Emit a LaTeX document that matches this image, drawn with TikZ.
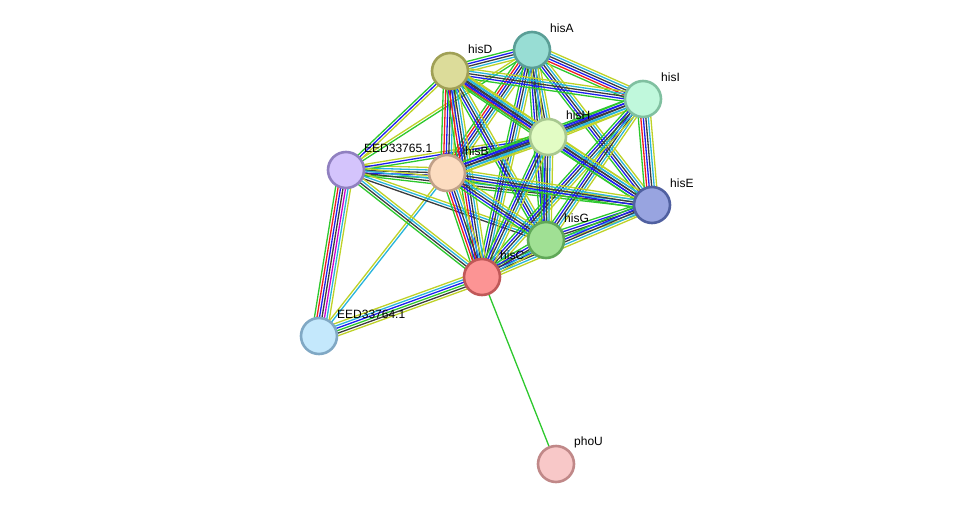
\documentclass[tikz,border=0pt]{standalone}
\usepackage{fontspec}
\setmainfont{Liberation Sans}
\usetikzlibrary{calc}
\pgfdeclarelayer{bg}
\pgfsetlayers{bg,main}
\definecolor{nb}{RGB}{45,200,45}
\definecolor{fu}{RGB}{240,30,30}
\definecolor{co}{RGB}{30,30,240}
\definecolor{ex}{RGB}{60,60,60}
\definecolor{xp}{RGB}{205,0,205}
\definecolor{db}{RGB}{40,180,220}
\definecolor{tm}{RGB}{190,210,40}
\tikzset{
  prot/.style={circle, draw, line width=2.6pt, minimum size=36pt, inner sep=0pt},
  lab/.style={anchor=west, inner sep=0pt, font=\fontsize{12}{14}\selectfont},
  edgeline/.style={line width=1.3pt}
}
\newcommand\sedge[3]{%
  \foreach \c [count=\i] in {#3} {\xdef\nlines{\i}}%
  \foreach \c [count=\i] in {#3} {%
    \pgfmathsetmacro\off{(\i-(\nlines+1)/2)*2.5}%
    \draw[\c, edgeline] ($(#1)!\off pt!90:(#2)$) -- ($(#2)!\off pt!-90:(#1)$);
  }}
\begin{document}
\begin{tikzpicture}[x=1pt,y=-1pt]
\useasboundingbox (0,0) rectangle (975,509);
% nodes
\node[prot, fill={rgb,255:red,152;green,221;blue,212}, draw={rgb,255:red,90;green,158;blue,150}] (hisA) at (532,50) {};
\node[prot, fill={rgb,255:red,220;green,220;blue,154}, draw={rgb,255:red,160;green,160;blue,85}] (hisD) at (450,71) {};
\node[prot, fill={rgb,255:red,192;green,248;blue,220}, draw={rgb,255:red,128;green,192;blue,160}] (hisI) at (643,99) {};
\node[prot, fill={rgb,255:red,226;green,252;blue,196}, draw={rgb,255:red,168;green,200;blue,144}] (hisH) at (548,137) {};
\node[prot, fill={rgb,255:red,212;green,196;blue,252}, draw={rgb,255:red,144;green,128;blue,192}] (e65) at (346,170) {};
\node[prot, fill={rgb,255:red,252;green,220;blue,192}, draw={rgb,255:red,192;green,160;blue,136}] (hisB) at (447,173) {};
\node[prot, fill={rgb,255:red,152;green,164;blue,224}, draw={rgb,255:red,80;green,96;blue,160}] (hisE) at (652,205) {};
\node[prot, fill={rgb,255:red,160;green,224;blue,148}, draw={rgb,255:red,96;green,168;blue,88}] (hisG) at (546,240) {};
\node[prot, fill={rgb,255:red,252;green,148;blue,148}, draw={rgb,255:red,192;green,88;blue,88}] (hisC) at (482,277) {};
\node[prot, fill={rgb,255:red,196;green,232;blue,252}, draw={rgb,255:red,128;green,168;blue,196}] (e64) at (319,336) {};
\node[prot, fill={rgb,255:red,248;green,200;blue,200}, draw={rgb,255:red,192;green,136;blue,136}] (phoU) at (556,464) {};
% labels
\node[lab] (lhisA) at ($(hisA)+(18,-22)$) {hisA};
\node[lab] (lhisD) at ($(hisD)+(18,-22)$) {hisD};
\node[lab] (lhisI) at ($(hisI)+(18,-22)$) {hisI};
\node[lab] (lhisH) at ($(hisH)+(18,-22)$) {hisH};
\node[lab] (le65) at ($(e65)+(18,-22)$) {EED33765.1};
\node[lab] (lhisB) at ($(hisB)+(18,-22)$) {hisB};
\node[lab] (lhisE) at ($(hisE)+(18,-22)$) {hisE};
\node[lab] (lhisG) at ($(hisG)+(18,-22)$) {hisG};
\node[lab] (lhisC) at ($(hisC)+(18,-22)$) {hisC};
\node[lab] (le64) at ($(e64)+(18,-22)$) {EED33764.1};
\node[lab] (lphoU) at ($(phoU)+(18,-22)$) {phoU};
% edges
\begin{pgfonlayer}{bg}
\sedge{hisC}{phoU}{nb}
\sedge{e65}{e64}{nb,fu,co,ex,xp,db,tm}
\sedge{e64}{hisC}{tm,ex,nb,co,db,tm}
\sedge{e64}{hisB}{db,tm}
\sedge{e65}{hisB}{nb,co,ex,db,tm}
\sedge{e65}{hisD}{tm,co,nb}
\sedge{e65}{hisA}{nb,tm}
\sedge{e65}{hisH}{nb,co,tm}
\sedge{e65}{hisE}{nb,ex,db,tm}
\sedge{e65}{hisG}{ex,db,tm}
\sedge{e65}{hisC}{nb,ex,db,tm}
\sedge{hisA}{hisD}{nb,co,ex,db,tm}
\sedge{hisA}{hisI}{nb,fu,co,ex,db,tm}
\sedge{hisA}{hisH}{nb,co,ex,db,tm}
\sedge{hisA}{hisB}{nb,fu,co,ex,db,tm}
\sedge{hisA}{hisE}{nb,co,ex,db,tm}
\sedge{hisA}{hisG}{nb,co,ex,db,tm}
\sedge{hisA}{hisC}{nb,co,ex,db,tm}
\sedge{hisD}{hisI}{nb,co,ex,db,tm}
\sedge{hisD}{hisH}{nb,fu,co,ex,db,tm}
\sedge{hisD}{hisB}{nb,fu,co,ex,db,tm}
\sedge{hisD}{hisE}{nb,co,ex,db,tm}
\sedge{hisD}{hisG}{nb,co,ex,db,tm}
\sedge{hisD}{hisC}{nb,fu,co,ex,db,tm}
\sedge{hisI}{hisH}{nb,co,ex,db,tm}
\sedge{hisI}{hisB}{nb,co,ex,db,tm}
\sedge{hisI}{hisE}{nb,fu,co,ex,db,tm}
\sedge{hisI}{hisG}{nb,co,ex,db,tm}
\sedge{hisI}{hisC}{nb,co,ex,db,tm}
\sedge{hisH}{hisB}{nb,co,ex,db,tm}
\sedge{hisH}{hisE}{nb,co,ex,db,tm}
\sedge{hisH}{hisG}{nb,co,ex,db,tm}
\sedge{hisH}{hisC}{nb,co,ex,db,tm}
\sedge{hisB}{hisE}{nb,co,ex,db,tm}
\sedge{hisB}{hisG}{nb,co,ex,db,tm}
\sedge{hisB}{hisC}{nb,fu,co,ex,db,tm}
\sedge{hisE}{hisG}{nb,co,ex,db,tm}
\sedge{hisE}{hisC}{nb,co,ex,db,tm}
\sedge{hisG}{hisC}{nb,co,ex,db,tm}
\end{pgfonlayer}
\end{tikzpicture}
\end{document}
